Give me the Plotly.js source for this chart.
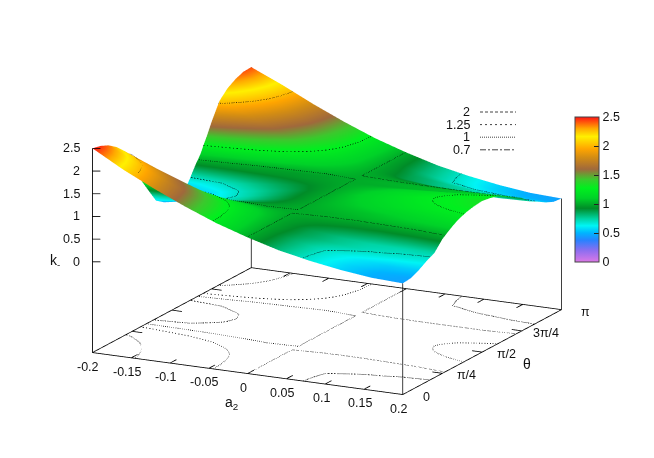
<!DOCTYPE html>
<html><head><meta charset="utf-8">
<script src="https://cdn.plot.ly/plotly-3.0.1.min.js"></script>
<style>html,body{margin:0;padding:0;background:#fff}#c{width:654px;height:458px}</style>
</head><body><div id="c"></div>
<script>
const a2Values=[-0.2,-0.16,-0.12,-0.08,-0.04,0,0.04,0.08,0.12,0.16,0.2];
const thetaFractions=[0,.05,.1,.15,.2,.25,.28,.3,.32,.35,.4,.45,.5,.55,.6,.65,.68,.7,.72,.75,.8,.85,.9,.95,1];
const kValues=[
[2.50,2.12,1.79,1.49,1.22,1,.81,.67,.56,.48,.45],
[2.46,2.09,1.76,1.47,1.22,1,.82,.68,.57,.50,.47],
[2.38,2.03,1.72,1.44,1.20,1,.83,.70,.61,.55,.55],
[2.25,1.93,1.64,1.39,1.18,1,.86,.78,.72,.69,.66],
[2.07,1.79,1.54,1.30,1.15,1,.88,.80,.75,.73,.75],
[1.68,1.49,1.33,1.20,1.09,1,.94,.91,.90,.92,.96],
[1.43,1.31,1.21,1.12,1.05,1,.99,.97,.98,1.00,1.04],
[1.27,1.19,1.12,1.05,1.01,1,1.01,1.02,1.04,1.06,1.09],
[1.13,1.09,1.05,1.01,.995,1,1.01,1.04,1.07,1.10,1.14],
[.93,.93,.94,.95,.97,1,1.03,1.06,1.10,1.15,1.20],
[.60,.69,.78,.86,.93,1,1.06,1.12,1.18,1.23,1.27],
[.47,.59,.71,.81,.91,1,1.08,1.15,1.21,1.27,1.31],
[.43,.56,.69,.80,.91,1,1.09,1.16,1.23,1.28,1.33],
[.47,.59,.71,.81,.91,1,1.08,1.15,1.20,1.26,1.30],
[.60,.69,.78,.86,.93,1,1.05,1.11,1.16,1.21,1.25],
[.93,.93,.94,.95,.97,1,1.01,1.03,1.06,1.10,1.14],
[1.10,1.03,.99,.97,.98,1,1.02,1.03,1.05,1.07,1.09],
[1.27,1.19,1.12,1.05,1.01,1,1.01,1.01,1.01,1.01,1.03],
[1.42,1.31,1.21,1.12,1.05,1,.99,.98,.98,.98,.99],
[1.68,1.49,1.33,1.20,1.09,1,.96,.93,.91,.91,.93],
[2.05,1.79,1.54,1.30,1.15,1,.88,.80,.76,.74,.76],
[2.23,1.93,1.64,1.39,1.18,1,.86,.78,.72,.69,.66],
[2.34,2.03,1.72,1.44,1.20,1,.83,.70,.61,.55,.55],
[2.41,2.09,1.76,1.47,1.22,1,.82,.68,.57,.50,.47],
[2.42,2.12,1.79,1.49,1.22,1,.81,.67,.56,.48,.45]];
const contourLevels=[2,1.25,1,0.7];
const contourLabels=['2','1.25','1','0.7'];
const contourDashes=['dash','dash','dot','dashdot'];
const legendDashes=['3px,2px','2px,3px','1px,1px','6px,2px,2px,2px'];
const xTicks=[-0.2,-0.15,-0.1,-0.05,0,0.05,0.1,0.15,0.2];
const xTickLabels=['-0.2','-0.15','-0.1','-0.05','0','0.05','0.1','0.15','0.2'];
const thetaTicks=[0,.25,.5,.75,1];
const thetaTickLabels=['0','π/4','π/2','3π/4','π'];
const zTicks=[0,.5,1,1.5,2,2.5];
const zTickLabels=['0','0.5','1','1.5','2','2.5'];
const colorStops=[[0,'#dc78e6'],[.08,'#8c6ef0'],[.15,'#2882ff'],[.2,'#00b4ff'],[.25,'#00f5f5'],[.3,'#00d2a0'],[.37,'#008c28'],[.44,'#00d228'],[.51,'#00f01e'],[.57,'#3cc82d'],[.64,'#a0693c'],[.72,'#d28c14'],[.78,'#ffa500'],[.865,'#fff000'],[.92,'#ffaa00'],[1,'#ff1414']];

const FONT='Liberation Sans';
const thetas=thetaFractions.map(f=>f*Math.PI);
const zBase=-2, lift=0.012;
const xMin=-0.2,xMax=0.2,thMax=Math.PI;

function contourChains(level){
  const segs=[];const nj=kValues.length,ni=a2Values.length;
  const key=(a)=>a.map(v=>v.toFixed(6)).join(',');
  for(let j=0;j<nj-1;j++)for(let i=0;i<ni-1;i++){
    const c=[[i,j],[i+1,j],[i+1,j+1],[i,j+1]];
    const v=c.map(p=>kValues[p[1]][p[0]]+1e-5);
    const pts=[];
    for(let e=0;e<4;e++){
      const a=v[e],b=v[(e+1)%4];
      if((a-level)*(b-level)<0){
        const s=(level-a)/(b-a),p=c[e],q=c[(e+1)%4];
        pts.push([a2Values[p[0]]+s*(a2Values[q[0]]-a2Values[p[0]]),thetas[p[1]]+s*(thetas[q[1]]-thetas[p[1]])]);
      }
    }
    if(pts.length===2)segs.push([pts[0],pts[1]]);
    else if(pts.length===4){segs.push([pts[0],pts[1]]);segs.push([pts[2],pts[3]]);}
  }
  const chains=[];
  while(segs.length){
    const ch=segs.pop();let grown=true;
    while(grown){grown=false;
      for(let k=0;k<segs.length;k++){
        const s=segs[k],h=key(ch[0]),t=key(ch[ch.length-1]);
        if(key(s[0])===t){ch.push(s[1]);}
        else if(key(s[1])===t){ch.push(s[0]);}
        else if(key(s[0])===h){ch.unshift(s[1]);}
        else if(key(s[1])===h){ch.unshift(s[0]);}
        else continue;
        segs.splice(k,1);grown=true;break;
      }
    }
    chains.push(ch);
  }
  return chains;
}
function rounded(ch){
  if(ch.length<3)return ch;
  const o=[ch[0]];
  for(let i=0;i<ch.length-1;i++){
    const a=ch[i],b=ch[i+1];
    o.push([.75*a[0]+.25*b[0],.75*a[1]+.25*b[1]]);
    o.push([.25*a[0]+.75*b[0],.25*a[1]+.75*b[1]]);
  }
  o.push(ch[ch.length-1]);
  return o;
}
const traces=[{type:'surface',x:a2Values,y:thetas,z:kValues,cmin:0,cmax:2.5,colorscale:colorStops,
  hoverinfo:'skip',
  lighting:{ambient:1,diffuse:0,specular:0,roughness:1,fresnel:0},
  colorbar:{x:575/654,xanchor:'left',xpad:0,y:1-189.5/458,yanchor:'middle',ypad:0,thickness:24,thicknessmode:'pixels',
    len:145,lenmode:'pixels',outlinecolor:'#444',outlinewidth:1,ticks:'inside',ticklen:5,tickcolor:'#222',tickwidth:1,
    tickmode:'array',tickvals:zTicks,ticktext:zTickLabels,tickfont:{family:FONT,size:12.5,color:'#111'}}}];
function line3d(xs,ys,zs,color,width,dash){
  return {type:'scatter3d',mode:'lines',x:xs,y:ys,z:zs,hoverinfo:'skip',showlegend:false,connectgaps:false,
    line:{color:color,width:width,dash:dash||'solid'}};
}
contourLevels.forEach((lv,n)=>{
  contourChains(lv).forEach(ch0=>{
    const ch=lv===1?ch0:rounded(rounded(ch0));
    traces.push(line3d(ch.map(p=>p[0]),ch.map(p=>p[1]),ch.map(()=>lv+lift),'#000',1.3,contourDashes[n]));
    traces.push(line3d(ch.map(p=>p[0]),ch.map(p=>p[1]),ch.map(()=>zBase),'#000',1.6,contourDashes[n]));
  });
});
const fx=[],fy=[],fz=[];
function seg(a,b){fx.push(a[0],b[0],null);fy.push(a[1],b[1],null);fz.push(a[2],b[2],null);}
const last=kValues.length-1,lastI=a2Values.length-1;
seg([xMin,0,zBase],[xMax,0,zBase]);seg([xMax,0,zBase],[xMax,thMax,zBase]);
seg([xMax,thMax,zBase],[xMin,thMax,zBase]);seg([xMin,thMax,zBase],[xMin,0,zBase]);
seg([xMin,0,zBase],[xMin,0,kValues[0][0]]);
seg([xMax,0,zBase],[xMax,0,kValues[0][lastI]]);
seg([xMax,thMax,zBase],[xMax,thMax,kValues[last][lastI]]);
seg([xMin,thMax,zBase],[xMin,thMax,kValues[last][0]]);
const tickT=0.04*thMax,tickX=0.013;
xTicks.slice(1,-1).forEach(x=>{seg([x,0,zBase],[x,tickT,zBase]);seg([x,thMax,zBase],[x,thMax-tickT,zBase]);});
thetaTicks.slice(1,-1).forEach(f=>{seg([xMin,f*thMax,zBase],[xMin+tickX,f*thMax,zBase]);seg([xMax,f*thMax,zBase],[xMax-tickX,f*thMax,zBase]);});
zTicks.forEach(z=>seg([xMin,0,z],[xMin+0.0082,0.0317,z]));
traces.push(line3d(fx,fy,fz,'#000',1.6));

const tf={family:FONT,size:12.5,color:'#111'};
const sceneAnn=[];
xTicks.forEach((x,i)=>sceneAnn.push({x:x,y:0,z:zBase,text:xTickLabels[i],showarrow:false,xshift:-4,yshift:-14,font:tf}));
thetaTicks.forEach((f,i)=>sceneAnn.push({x:xMax,y:f*thMax,z:zBase,text:thetaTickLabels[i],showarrow:false,xshift:24,yshift:-2,font:tf}));
zTicks.forEach((z,i)=>sceneAnn.push({x:xMin,y:0,z:z,text:zTickLabels[i],showarrow:false,xanchor:'right',xshift:-10,font:tf}));

const P=(x,y)=>({xref:'paper',yref:'paper',x:x/654,y:1-y/458,showarrow:false,xanchor:'center',yanchor:'middle'});
const ann=[
 Object.assign(P(231,403),{text:'a<sub>2</sub>',font:{family:FONT,size:14,color:'#111'}}),
 Object.assign(P(527,364),{text:'θ',font:{family:FONT,size:14,color:'#111'}}),
 Object.assign(P(55,261),{text:'k<sub>-</sub>',font:{family:FONT,size:14,color:'#111'}})
];
const shapes=[];
contourLabels.forEach((t,n)=>{
  const y=112+n*12.6;
  ann.push(Object.assign(P(472,y),{text:t,xanchor:'right',font:tf}));
  shapes.push({type:'line',xref:'paper',yref:'paper',x0:480/654,x1:516/654,y0:1-y/458,y1:1-y/458,line:{color:'#444',width:1,dash:legendDashes[n]}});
});
zTicks.forEach(z=>{
  const y=261.5-z/2.5*144.5;
  if(z>0&&z<2.5)shapes.push({type:'line',xref:'paper',yref:'paper',x0:575/654,x1:580/654,y0:1-y/458,y1:1-y/458,line:{color:'#222',width:1}});
});
const hid={showgrid:false,zeroline:false,showline:false,showticklabels:false,showspikes:false,showbackground:false,ticks:'',title:{text:''}};
const d=3;
const s=1.543;
const layout={width:654,height:458,margin:{l:0,r:0,t:0,b:0},paper_bgcolor:'#fff',showlegend:false,hovermode:false,
 annotations:ann,shapes:shapes,
 scene:{domain:{x:[0,1],y:[0,1]},aspectmode:'manual',aspectratio:{x:.983*s*1.025,y:1*s*1.0064,z:.6*s*1.0089},
  xaxis:Object.assign({range:[xMin-.005,xMax+.005]},hid),yaxis:Object.assign({range:[-.01,thMax+.01]},hid),zaxis:Object.assign({range:[zBase-.02,2.52]},hid),
  camera:{projection:{type:'orthographic'},up:{x:0,y:0,z:1},center:{x:0,y:0,z:0},eye:{x:.4326*d,y:-.860*d,z:.2688*d}},
  annotations:sceneAnn}};
Plotly.newPlot('c',traces,layout,{displayModeBar:false});
</script></body></html>
